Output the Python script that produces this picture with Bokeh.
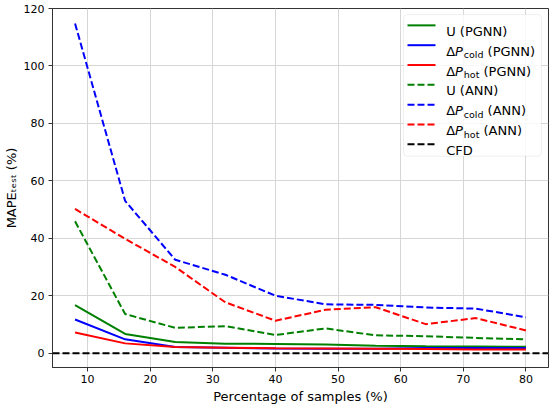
from bokeh.plotting import figure
from bokeh.models import Range1d, Span, Label, BoxAnnotation, FixedTicker
from bokeh.embed import file_html
from bokeh.resources import INLINE

# ---- data ----
x_pct = [8, 16, 24, 32, 40, 48, 56, 64, 72, 80]
u_pgnn = [16.7, 6.7, 3.9, 3.3, 3.2, 3.0, 2.6, 2.4, 2.3, 2.2]
dpc_pgnn = [11.7, 4.8, 2.1, 1.9, 1.6, 1.5, 1.5, 1.8, 1.8, 1.8]
dph_pgnn = [7.2, 3.4, 2.1, 1.9, 1.7, 1.6, 1.5, 1.4, 1.3, 1.3]
u_ann = [45.9, 13.6, 8.8, 9.4, 6.3, 8.6, 6.2, 5.9, 5.3, 4.8]
dpc_ann = [114.8, 53.0, 32.5, 27.3, 20.0, 17.0, 16.8, 15.9, 15.5, 12.5]
dph_ann = [50.2, 39.8, 30.0, 17.7, 11.3, 15.1, 16.0, 10.1, 12.2, 7.9]
cfd_value = 0.0
x_ticks = [10, 20, 30, 40, 50, 60, 70, 80]
y_ticks = [0, 20, 40, 60, 80, 100, 120]
x_label = "Percentage of samples (%)"
y_label = "MAPE\u209c\u2091\u209b\u209c (%)"

# ---- layout ----
XMIN, XMAX = 4.4, 83.6
YMIN, YMAX = -5.0, 120.0
W, H = 549, 406
BL, BR, BT, BB = 52, 1, 8, 36
FW = W - BL - BR
FH = H - BT - BB
FONT = "DejaVu Sans"
SPINE = "#333333"
DASH = "7 3"


def dx(px):
    return XMIN + px / FW * (XMAX - XMIN)


def dy(py):
    return YMAX - py / FH * (YMAX - YMIN)


p = figure(width=W, height=H, output_backend="svg", toolbar_location=None,
           x_range=Range1d(XMIN, XMAX), y_range=Range1d(YMIN, YMAX),
           min_border_left=BL, min_border_right=BR,
           min_border_top=BT, min_border_bottom=BB)
p.background_fill_color = "white"
p.border_fill_color = "white"
p.outline_line_color = SPINE
p.outline_line_width = 1

p.xaxis.ticker = FixedTicker(ticks=x_ticks)
p.yaxis.ticker = FixedTicker(ticks=y_ticks)
p.xaxis.axis_label = x_label
p.yaxis.axis_label = y_label
p.axis.axis_label_text_font = FONT
p.axis.axis_label_text_font_size = "13px"
p.axis.axis_label_text_font_style = "normal"
p.axis.axis_label_text_color = "black"
p.xaxis.axis_label_standoff = 3
p.yaxis.axis_label_standoff = 2
p.axis.major_label_text_font = FONT
p.axis.major_label_text_font_size = "11px"
p.axis.major_label_text_color = "black"
p.axis.minor_tick_line_color = None
p.axis.major_tick_in = 0
p.axis.major_tick_out = 4
p.axis.major_tick_line_color = SPINE
p.axis.axis_line_color = SPINE
p.xaxis.major_label_standoff = 3
p.yaxis.major_label_standoff = 4
p.grid.grid_line_color = "#d6d6d6"
p.grid.grid_line_width = 1

series = [
    (u_pgnn, "green", "solid"),
    (dpc_pgnn, "blue", "solid"),
    (dph_pgnn, "red", "solid"),
    (u_ann, "green", DASH),
    (dpc_ann, "blue", DASH),
    (dph_ann, "red", DASH),
]
for vals, col, dash in series:
    p.line(x_pct, vals, line_color=col, line_width=2, line_dash=dash)

p.add_layout(Span(location=cfd_value, dimension="width", line_color="black",
                  line_width=2, line_dash=DASH))

# ---- legend (drawn by hand to allow sub/italic text) ----
box = BoxAnnotation(left=dx(FW - 145), right=dx(FW - 7), top=dy(6), bottom=dy(149),
                    fill_color="white", fill_alpha=0.8, line_color="#cccccc",
                    line_width=1, border_radius=4)
p.add_layout(box)

SUBW = {"cold": 19.7, "hot": 15.6}


def delta_pieces(sub, tail):
    return [("\u0394", 0, 0, 13, "normal"), ("P", 8.9, 0, 13, "italic"),
            (sub, 17.6, -3.5, 9.5, "normal"),
            (tail, 17.6 + SUBW[sub] + 4.1, 0, 13, "normal")]


legend_rows = [
    ("green", "solid", [("U (PGNN)", 0, 0, 13, "normal")]),
    ("blue", "solid", delta_pieces("cold", "(PGNN)")),
    ("red", "solid", delta_pieces("hot", "(PGNN)")),
    ("green", DASH, [("U (ANN)", 0, 0, 13, "normal")]),
    ("blue", DASH, delta_pieces("cold", "(ANN)")),
    ("red", DASH, delta_pieces("hot", "(ANN)")),
    ("black", DASH, [("CFD", 0, 0, 13, "normal")]),
]
for i, (col, dash, pieces) in enumerate(legend_rows):
    ry = 17 + 20 * i
    r = p.segment(x0=[dx(FW - 141)], x1=[dx(FW - 113)], y0=[dy(ry)], y1=[dy(ry)],
                  line_color=col, line_width=2, line_dash=dash)
    r.level = "overlay"
    for txt, ox, oy, size, style in pieces:
        p.add_layout(Label(x=dx(FW - 102.3), y=dy(ry), x_offset=ox, y_offset=-6 + oy,
                           text=txt, text_font=FONT, text_font_size=f"{size}px",
                           text_font_style=style, text_color="black",
                           text_align="left", text_baseline="alphabetic"))

open("out.html", "w").write(file_html(p, INLINE))
